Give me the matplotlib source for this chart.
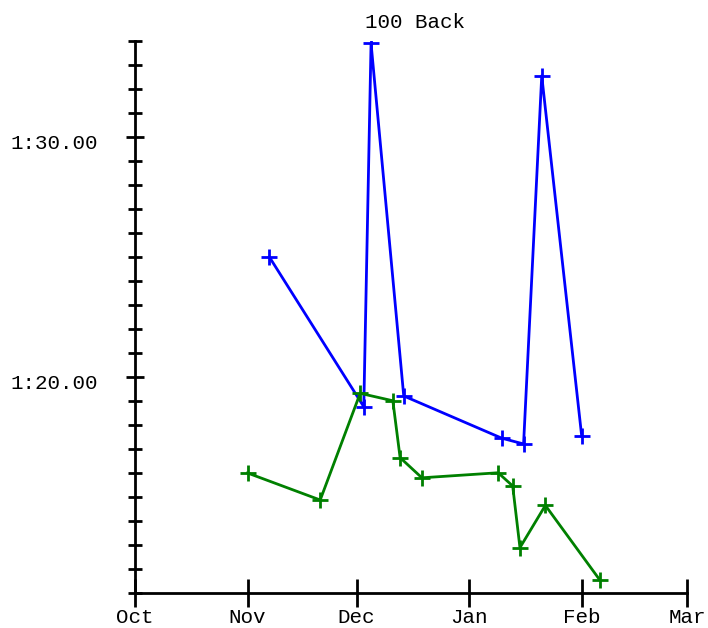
import matplotlib
matplotlib.use("Agg")
import matplotlib.pyplot as plt
import matplotlib.ticker as mt
import matplotlib.transforms as mtrans
from datetime import datetime

# Swim times (seconds) for 100 Back, season 2003/2004
blue_dates = ["2003-11-07", "2003-12-03", "2003-12-05", "2003-12-14",
              "2004-01-10", "2004-01-16", "2004-01-21", "2004-02-01"]
blue_times = [85.0, 78.76, 93.9, 79.21, 77.45, 77.21, 92.55, 77.54]

green_dates = ["2003-11-01", "2003-11-21", "2003-12-02", "2003-12-11",
               "2003-12-13", "2003-12-19", "2004-01-09", "2004-01-13",
               "2004-01-15", "2004-01-22", "2004-02-06"]
green_times = [76.0, 74.875, 79.32, 79.01, 76.64, 75.8, 76.01, 75.46,
               72.89, 74.65, 71.54]

month_ticks = ["2003-10-01", "2003-11-01", "2003-12-01", "2004-01-01",
               "2004-02-01", "2004-03-01"]
month_labels = ["Oct", "Nov", "Dec", "Jan", "Feb", "Mar"]

def to_dt(lst):
    return [datetime.strptime(s, "%Y-%m-%d") for s in lst]

def fmt_time(v, pos=None):
    m = int(v // 60)
    s = v - 60 * m
    return "%d:%05.2f" % (m, s)

plt.rcParams['font.family'] = ['Liberation Mono', 'DejaVu Sans']

fig = plt.figure(figsize=(7.08, 6.28), dpi=100)
ax = fig.add_axes([135 / 708, 35 / 628, 552 / 708, 552 / 628])

ax.plot(to_dt(blue_dates), blue_times, '-+', color='#0000ff', lw=2,
        ms=11, mew=2)
ax.plot(to_dt(green_dates), green_times, '-+', color='#008000', lw=2,
        ms=11, mew=2)

ax.set_xlim(to_dt(month_ticks)[0], to_dt(month_ticks)[-1])
ax.set_ylim(71, 94)

ax.set_xticks(to_dt(month_ticks))
ax.set_xticklabels(month_labels)
ax.yaxis.set_major_locator(mt.MultipleLocator(10))
ax.yaxis.set_minor_locator(mt.MultipleLocator(1))
ax.yaxis.set_major_formatter(mt.FuncFormatter(fmt_time))

for side in ['top', 'right']:
    ax.spines[side].set_visible(False)
for side in ['left', 'bottom']:
    ax.spines[side].set_linewidth(2)

ax.tick_params(axis='x', direction='inout', length=20, width=2, pad=1,
               labelsize=15)
ax.tick_params(axis='y', which='major', direction='inout', length=13,
               width=2, pad=20, labelsize=15)
ax.tick_params(axis='y', which='minor', direction='inout', length=9.5,
               width=2)

# y labels sit a little below their ticks in the original
shift = mtrans.ScaledTranslation(0, -3 / 72, fig.dpi_scale_trans)
for lab in ax.get_yticklabels():
    lab.set_transform(lab.get_transform() + shift)

fig.text(415 / 708, 1 - 22 / 628, "100 Back", ha='center', va='center',
         fontsize=15)

fig.savefig("out.png", dpi=100)
